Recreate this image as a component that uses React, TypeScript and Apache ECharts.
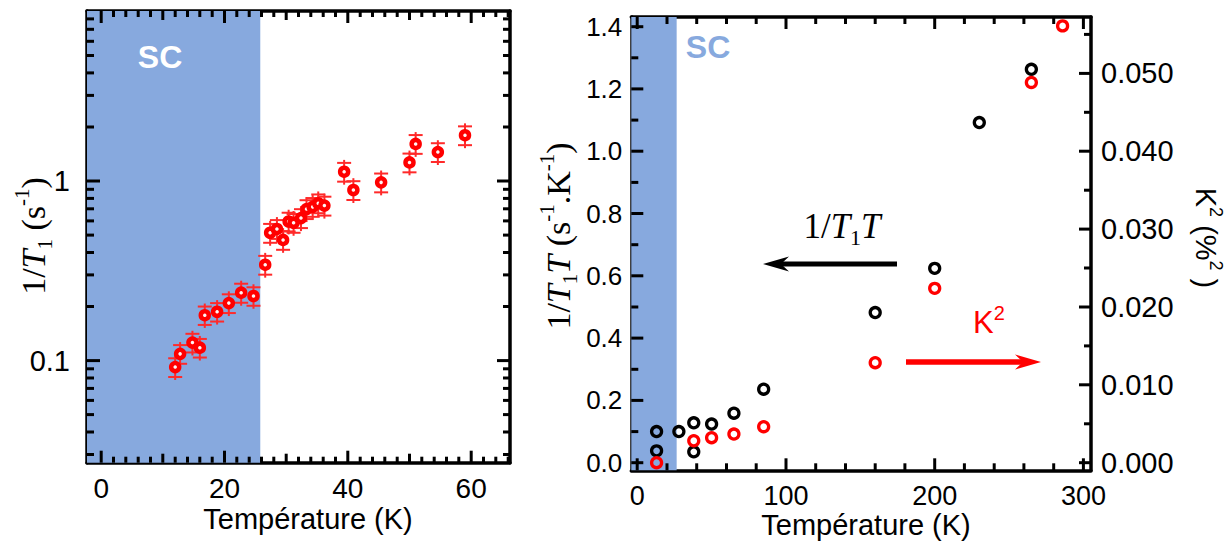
import React, { useEffect, useRef } from 'react';
import * as echarts from 'echarts';

// ---------- Left panel data: 1/T1 vs T (log scale) ----------
const leftTemps = [12.0, 12.8, 14.8, 16.0, 16.8, 18.8, 20.7, 22.7, 24.7, 26.6, 27.4, 28.5, 29.5, 30.4, 31.2, 32.4, 33.3, 34.3, 35.2, 36.2, 39.4, 40.9, 45.4, 50.0, 51.0, 54.6, 59.0];
const invT1 = [0.092, 0.109, 0.126, 0.118, 0.179, 0.187, 0.209, 0.239, 0.229, 0.342, 0.515, 0.541, 0.470, 0.595, 0.585, 0.622, 0.698, 0.718, 0.752, 0.730, 1.127, 0.891, 0.983, 1.27, 1.61, 1.45, 1.80];
const invT1Err = [0.011, 0.013, 0.015, 0.014, 0.021, 0.022, 0.025, 0.029, 0.027, 0.041, 0.062, 0.065, 0.056, 0.071, 0.070, 0.075, 0.084, 0.086, 0.090, 0.088, 0.135, 0.107, 0.118, 0.152, 0.193, 0.174, 0.216];
const leftTc = 25.8;

// ---------- Right panel data ----------
const t1tTemps = [13, 13, 28, 38, 38, 50, 65, 85, 160, 200, 230, 265];
const invT1T = [0.100, 0.038, 0.100, 0.035, 0.128, 0.124, 0.159, 0.236, 0.482, 0.624, 1.092, 1.263];
const k2Temps = [13, 38, 50, 65, 85, 160, 200, 265, 286];
const kSquared = [0.0, 0.00282, 0.00321, 0.00368, 0.00462, 0.01284, 0.02239, 0.04883, 0.0561];
const rightTc = 26.5;

// ---------- Tick / label values ----------
const leftXLabels = [0, 20, 40, 60];
const leftXMidTicks = [10, 30, 50];
const leftXMinorTicks = [2, 4, 6, 8, 12, 14, 16, 18, 22, 24, 26, 28, 32, 34, 36, 38, 42, 44, 46, 48, 52, 54, 56, 58, 62, 64, 66];
const leftYLabels = [0.1, 1];
const leftYMinorTicks = [0.03, 0.04, 0.05, 0.06, 0.07, 0.08, 0.09, 0.2, 0.3, 0.4, 0.5, 0.6, 0.7, 0.8, 0.9, 2, 3, 4, 5, 6, 7, 8];
const rightXLabels = [0, 100, 200, 300];
const rightXMinorTicks = [20, 40, 60, 80, 120, 140, 160, 180, 220, 240, 260, 280];
const rightYLabels = [0, 0.2, 0.4, 0.6, 0.8, 1.0, 1.2, 1.4];
const rightYMinorTicks = [0.1, 0.3, 0.5, 0.7, 0.9, 1.1, 1.3];
const k2Labels = [0, 0.01, 0.02, 0.03, 0.04, 0.05];
const k2MinorTicks = [0.005, 0.015, 0.025, 0.035, 0.045, 0.055];

const SANS = 'Liberation Sans, Arial, sans-serif';
const SERIF = 'Liberation Serif, Times New Roman, serif';
const SC_BLUE = '#87a9de';

const LX = [-2.3, 66.3];
const LY = [0.027, 8.85];
const RX = [-4.0, 305.1];
const RY = [-0.0244, 1.431];
const KY = [RY[0] / 25, RY[1] / 25];

type AxOpt = {
  grid: number; position: string; type?: string; min: number; max: number;
  labels?: number[]; fmt?: (v: number) => string; margin?: number; fontSize?: number;
};

function axis(o: AxOpt) {
  return {
    type: o.type || 'value',
    gridIndex: o.grid,
    position: o.position,
    min: o.min,
    max: o.max,
    logBase: 10,
    axisLine: { show: true, onZero: false, lineStyle: { color: '#000', width: 3.5 } },
    axisTick: { show: false },
    axisLabel: o.labels
      ? { show: true, customValues: o.labels.slice(), formatter: o.fmt, margin: o.margin ?? 10, fontFamily: SANS, fontSize: o.fontSize ?? 28, color: '#000' }
      : { show: false },
    splitLine: { show: false },
    minorTick: { show: false },
  };
}

function buildOption() {
  const xAxes = [
    axis({ grid: 0, position: 'bottom', min: LX[0], max: LX[1], labels: leftXLabels, fmt: (v) => String(v), margin: 12, fontSize: 28 }),
    axis({ grid: 0, position: 'top', min: LX[0], max: LX[1] }),
    axis({ grid: 1, position: 'bottom', min: RX[0], max: RX[1], labels: rightXLabels, fmt: (v) => String(v), margin: 12, fontSize: 27 }),
    axis({ grid: 1, position: 'top', min: RX[0], max: RX[1] }),
  ];

  const yAxes = [
    axis({ grid: 0, position: 'left', type: 'log', min: LY[0], max: LY[1], labels: leftYLabels, fmt: (v) => (v >= 1 ? '1' : '0.1'), margin: 17, fontSize: 29 }),
    axis({ grid: 0, position: 'right', type: 'log', min: LY[0], max: LY[1] }),
    axis({ grid: 1, position: 'left', min: RY[0], max: RY[1], labels: rightYLabels, fmt: (v) => v.toFixed(1), margin: 9, fontSize: 26 }),
    axis({ grid: 1, position: 'right', min: KY[0], max: KY[1], labels: k2Labels, fmt: (v) => v.toFixed(3), margin: 10, fontSize: 29 }),
  ];

  const errData = leftTemps.map((t, i) => [t, invT1[i] - invT1Err[i], invT1[i] + invT1Err[i]]);

  const series: any[] = [
    {
      type: 'scatter', xAxisIndex: 0, yAxisIndex: 0, data: [], z: 1, silent: true,
      markArea: { silent: true, itemStyle: { color: SC_BLUE, opacity: 1 }, data: [[{ xAxis: LX[0] }, { xAxis: leftTc }]] },
    },
    {
      type: 'custom', xAxisIndex: 0, yAxisIndex: 0, z: 3, silent: true,
      encode: { x: 0, y: [1, 2] },
      data: errData,
      renderItem: (params: any, api: any) => {
        const lo = api.coord([api.value(0), api.value(1)]);
        const hi = api.coord([api.value(0), api.value(2)]);
        const x = lo[0];
        const style = { stroke: '#ff2a2a', lineWidth: 2 };
        return {
          type: 'group',
          children: [
            { type: 'line', shape: { x1: x, y1: hi[1] - 3, x2: x, y2: lo[1] + 3 }, style },
            { type: 'line', shape: { x1: x - 7, y1: hi[1], x2: x + 7, y2: hi[1] }, style },
            { type: 'line', shape: { x1: x - 7, y1: lo[1], x2: x + 7, y2: lo[1] }, style },
          ],
        };
      },
    },
    {
      type: 'scatter', xAxisIndex: 0, yAxisIndex: 0, z: 4, silent: true,
      data: leftTemps.map((t, i) => [t, invT1[i]]),
      symbol: 'circle', symbolSize: 8,
      itemStyle: { color: '#fff4f4', borderColor: '#ff0000', borderWidth: 4.5, opacity: 1 },
    },
    {
      type: 'scatter', xAxisIndex: 2, yAxisIndex: 2, data: [], z: 1, silent: true,
      markArea: { silent: true, itemStyle: { color: SC_BLUE, opacity: 1 }, data: [[{ xAxis: RX[0] }, { xAxis: rightTc }]] },
    },
    {
      type: 'scatter', xAxisIndex: 2, yAxisIndex: 2, z: 4, silent: true,
      data: t1tTemps.map((t, i) => [t, invT1T[i]]),
      symbol: 'circle', symbolSize: 10,
      itemStyle: { color: 'rgba(255,255,255,0)', borderColor: '#000', borderWidth: 3.3, opacity: 1 },
    },
    {
      type: 'scatter', xAxisIndex: 2, yAxisIndex: 3, z: 4, silent: true,
      data: k2Temps.map((t, i) => [t, kSquared[i]]),
      symbol: 'circle', symbolSize: 10,
      itemStyle: { color: 'rgba(255,255,255,0)', borderColor: '#ff0000', borderWidth: 3.3, opacity: 1 },
    },
  ];

  return {
    animation: false,
    backgroundColor: '#fff',
    grid: [
      { left: 87, top: 11, width: 423, height: 451.7, show: false },
      { left: 631.3, top: 17, width: 459.7, height: 453.3, show: false },
    ],
    xAxis: xAxes,
    yAxis: yAxes,
    series,
  };
}

function annotations(): any[] {
  const serifRich = (size: number, fill = '#000') => ({
    n: { fontFamily: SERIF, fontSize: size, lineHeight: size + 10, fill },
    i: { fontFamily: SERIF, fontSize: size, fontStyle: 'italic', lineHeight: size + 10, fill },
    s: { fontFamily: SERIF, fontSize: Math.round(size * 0.62), lineHeight: Math.round(size * 0.62), verticalAlign: 'bottom', fill },
    p: { fontFamily: SERIF, fontSize: Math.round(size * 0.62), lineHeight: Math.round(size * 0.62), verticalAlign: 'top', fill },
  });
  return [
    { type: 'text', z: 100, x: 160, y: 57, style: { text: 'SC', fontFamily: SANS, fontWeight: 'bold', fontSize: 32, fill: '#fff', align: 'center', verticalAlign: 'middle' } },
    { type: 'text', z: 100, x: 708, y: 47, style: { text: 'SC', fontFamily: SANS, fontWeight: 'bold', fontSize: 32, fill: SC_BLUE, align: 'center', verticalAlign: 'middle' } },
    { type: 'text', z: 100, x: 308, y: 519, style: { text: 'Température (K)', fontFamily: SANS, fontSize: 29, fill: '#000', align: 'center', verticalAlign: 'middle' } },
    { type: 'text', z: 100, x: 866, y: 525, style: { text: 'Température (K)', fontFamily: SANS, fontSize: 29, fill: '#000', align: 'center', verticalAlign: 'middle' } },
    {
      type: 'text', z: 100, x: 33, y: 236, rotation: Math.PI / 2,
      style: { text: '{n|1/}{i|T}{s|1}{n| (s}{p|-1}{n|)}', rich: serifRich(34), align: 'center', verticalAlign: 'middle' },
    },
    {
      type: 'text', z: 100, x: 558, y: 236, rotation: Math.PI / 2,
      style: { text: '{n|1/}{i|T}{s|1}{i|T}{n| (s}{p|-1}{n|.K}{p|-1}{n|)}', rich: serifRich(34), align: 'center', verticalAlign: 'middle' },
    },
    {
      type: 'text', z: 100, x: 1206, y: 238, rotation: -Math.PI / 2,
      style: {
        text: '{n|K}{p|2}{n| (%}{p|2}{n| )}',
        rich: {
          n: { fontFamily: SANS, fontSize: 29, lineHeight: 37, fill: '#000' },
          p: { fontFamily: SANS, fontSize: 18, lineHeight: 18, verticalAlign: 'top', fill: '#000' },
        },
        align: 'center', verticalAlign: 'middle',
      },
    },
    {
      type: 'text', z: 100, x: 842, y: 226,
      style: { text: '{n|1/}{i|T}{s|1}{i|T}', rich: serifRich(35), align: 'center', verticalAlign: 'middle' },
    },
    { type: 'rect', z: 100, shape: { x: 779, y: 261.5, width: 118, height: 5 }, style: { fill: '#000' } },
    { type: 'polygon', z: 100, shape: { points: [[763, 264], [789, 256.5], [781, 264], [789, 271.5]] }, style: { fill: '#000' } },
    {
      type: 'text', z: 100, x: 989, y: 322,
      style: {
        text: '{n|K}{p|2}',
        rich: {
          n: { fontFamily: SANS, fontSize: 31, lineHeight: 39, fill: '#ff0000' },
          p: { fontFamily: SANS, fontSize: 20, lineHeight: 20, verticalAlign: 'top', fill: '#ff0000' },
        },
        align: 'center', verticalAlign: 'middle',
      },
    },
    { type: 'rect', z: 100, shape: { x: 906, y: 359.2, width: 120, height: 5.6 }, style: { fill: '#ff0000' } },
    { type: 'polygon', z: 100, shape: { points: [[1041, 362], [1015, 354.5], [1023, 362], [1015, 369.5]] }, style: { fill: '#ff0000' } },
  ];
}

// Frame tick marks, positioned with the chart's own axis scales (convertToPixel)
function tickElements(chart: any): any[] {
  const els: any[] = [];
  const toNum = (r: any) => Math.round((Array.isArray(r) ? Number(r[0]) : Number(r)) * 10) / 10;
  const px = (xi: number, v: number) => toNum(chart.convertToPixel({ xAxisIndex: xi }, v));
  const py = (yi: number, v: number) => toNum(chart.convertToPixel({ yAxisIndex: yi }, v));
  const xTicks = (xi: number, yi: number, yr: number[], vals: number[], len: number) => {
    const yb = py(yi, yr[0]);
    const yt = py(yi, yr[1]);
    vals.forEach((v) => {
      const x = px(xi, v);
      els.push({ type: 'rect', z: 95, shape: { x: x - 1.5, y: yb - len, width: 3, height: len }, style: { fill: '#000' } });
      els.push({ type: 'rect', z: 95, shape: { x: x - 1.5, y: yt, width: 3, height: len }, style: { fill: '#000' } });
    });
  };
  const yTicks = (xi: number, yi: number, xr: number[], vals: number[], len: number, sides: string) => {
    const xl = px(xi, xr[0]);
    const xrr = px(xi, xr[1]);
    vals.forEach((v) => {
      const y = py(yi, v);
      if (sides.indexOf('l') >= 0) els.push({ type: 'rect', z: 95, shape: { x: xl, y: y - 1.5, width: len, height: 3 }, style: { fill: '#000' } });
      if (sides.indexOf('r') >= 0) els.push({ type: 'rect', z: 95, shape: { x: xrr - len, y: y - 1.5, width: len, height: 3 }, style: { fill: '#000' } });
    });
  };
  xTicks(0, 0, LY, leftXLabels, 12);
  xTicks(0, 0, LY, leftXMidTicks, 9);
  xTicks(0, 0, LY, leftXMinorTicks, 6);
  yTicks(0, 0, LX, leftYLabels, 13, 'lr');
  yTicks(0, 0, LX, leftYMinorTicks, 7, 'lr');
  xTicks(2, 2, RY, rightXLabels, 12);
  xTicks(2, 2, RY, rightXMinorTicks, 7);
  yTicks(2, 2, RX, rightYLabels, 12, 'l');
  yTicks(2, 2, RX, rightYMinorTicks, 7, 'l');
  yTicks(2, 3, RX, k2Labels, 12, 'r');
  yTicks(2, 3, RX, k2MinorTicks, 7, 'r');
  return els.filter((e) => isFinite(e.shape.x) && isFinite(e.shape.y));
}

export default function App() {
  const ref = useRef<HTMLDivElement>(null);
  useEffect(() => {
    document.body.style.margin = '0';
    const chart = echarts.init(ref.current!, null, { renderer: 'svg' });
    chart.setOption(buildOption() as any);
    chart.setOption({ graphic: [...annotations(), ...tickElements(chart)] } as any);
    return () => chart.dispose();
  }, []);
  return <div ref={ref} style={{ width: 1231, height: 541 }} />;
}
